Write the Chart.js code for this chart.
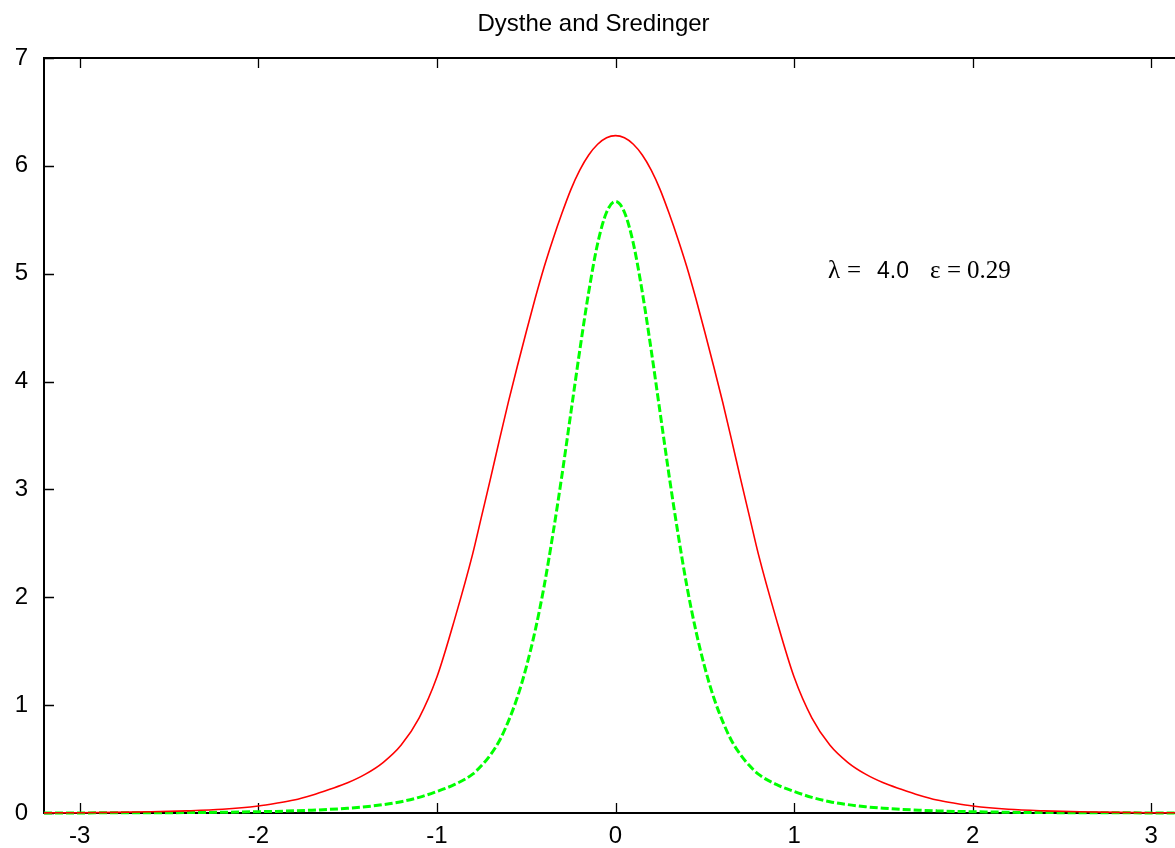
<!DOCTYPE html>
<html>
<head>
<meta charset="utf-8">
<script src="https://cdn.jsdelivr.net/npm/chart.js@4.4.0/dist/chart.umd.min.js"></script>
<style>
  body { margin: 0; overflow: hidden; background: #fff; }
  #wrap { width: 1190px; height: 848px; }
</style>
</head>
<body>
<div id="wrap"><canvas id="chart" width="1190" height="848"></canvas></div>
<script>
// x positions of the sampled points
const xs = [
  -3.2, -3.0, -2.8, -2.6, -2.4, -2.2, -2.0, -1.9, -1.8, -1.7, -1.6, -1.5, -1.4, -1.3, -1.2, -1.1, -1.0,
  -0.9, -0.8, -0.75, -0.7, -0.65, -0.6, -0.55, -0.5, -0.45, -0.4, -0.35, -0.3, -0.25, -0.2, -0.15, -0.1, -0.05,
  0,
  0.05, 0.1, 0.15, 0.2, 0.25, 0.3, 0.35, 0.4, 0.45, 0.5, 0.55, 0.6, 0.65, 0.7, 0.75, 0.8, 0.9,
  1.0, 1.1, 1.2, 1.3, 1.4, 1.5, 1.6, 1.7, 1.8, 1.9, 2.0, 2.2, 2.4, 2.6, 2.8, 3.0, 3.2
];

// Dysthe (red, solid)
const dystheVals = [
  0.0015, 0.003, 0.006, 0.011, 0.02, 0.035, 0.065, 0.09, 0.12, 0.165, 0.22, 0.28, 0.36, 0.47, 0.63, 0.88, 1.26,
  1.80, 2.40, 2.75, 3.10, 3.46, 3.81, 4.14, 4.46, 4.77, 5.06, 5.32, 5.56, 5.78, 5.96, 6.10, 6.20, 6.26,
  6.28,
  6.26, 6.20, 6.10, 5.96, 5.78, 5.56, 5.32, 5.06, 4.77, 4.46, 4.14, 3.81, 3.46, 3.10, 2.75, 2.40, 1.80,
  1.26, 0.88, 0.63, 0.47, 0.36, 0.28, 0.22, 0.165, 0.12, 0.09, 0.065, 0.035, 0.02, 0.011, 0.006, 0.003, 0.0015
];

// Schrodinger (green, dashed)
const sredVals = [
  0.0006, 0.001, 0.0015, 0.0025, 0.004, 0.007, 0.012, 0.015, 0.02, 0.026, 0.034, 0.044, 0.058, 0.078, 0.105, 0.145, 0.20,
  0.265, 0.36, 0.44, 0.54, 0.67, 0.85, 1.07, 1.35, 1.69, 2.10, 2.59, 3.13, 3.71, 4.29, 4.83, 5.28, 5.57,
  5.67,
  5.57, 5.28, 4.83, 4.29, 3.71, 3.13, 2.59, 2.10, 1.69, 1.35, 1.07, 0.85, 0.67, 0.54, 0.44, 0.36, 0.265,
  0.20, 0.145, 0.105, 0.078, 0.058, 0.044, 0.034, 0.026, 0.02, 0.015, 0.012, 0.007, 0.004, 0.0025, 0.0015, 0.001, 0.0006
];

const xTicks = [-3, -2, -1, 0, 1, 2, 3];
const yTicks = [0, 1, 2, 3, 4, 5, 6, 7];

const toPoints = vals => vals.map((v, i) => ({ x: xs[i], y: v }));

// gnuplot style frame with inward ticks, plus the label text
const gnuFrame = {
  id: 'gnuFrame',
  beforeDatasetsDraw(chart) {
    const { ctx, chartArea: a, scales } = chart;
    ctx.save();
    ctx.strokeStyle = '#000';
    ctx.lineWidth = 1.3;
    xTicks.forEach(t => {
      const px = Math.round(scales.x.getPixelForValue(t)) + 0.5;
      ctx.beginPath();
      ctx.moveTo(px, a.bottom); ctx.lineTo(px, a.bottom - 10);
      ctx.moveTo(px, a.top); ctx.lineTo(px, a.top + 10);
      ctx.stroke();
    });
    yTicks.forEach(t => {
      const py = Math.round(scales.y.getPixelForValue(t)) + 0.5;
      ctx.beginPath();
      ctx.moveTo(a.left, py); ctx.lineTo(a.left + 10, py);
      ctx.moveTo(a.right, py); ctx.lineTo(a.right - 10, py);
      ctx.stroke();
    });
    ctx.lineWidth = 2;
    ctx.strokeRect(a.left, a.top, a.right - a.left, a.bottom - a.top);
    ctx.restore();
  },
  afterDraw(chart) {
    const { ctx, scales } = chart;
    const x0 = scales.x.getPixelForValue(1.19);
    const py = scales.y.getPixelForValue(5.02);
    const serif = '25px "Liberation Serif", "Times New Roman", serif';
    const sans = '23px "Liberation Sans", Arial, sans-serif';
    const parts = [
      ['λ', serif, 0],
      ['=', serif, 19],
      ['4.0', sans, 49],
      ['ε', serif, 102],
      ['=', serif, 119],
      ['0.29', serif, 139]
    ];
    ctx.save();
    ctx.fillStyle = '#000';
    ctx.textBaseline = 'middle';
    parts.forEach(([txt, font, dx]) => {
      ctx.font = font;
      ctx.fillText(txt, x0 + dx, py);
    });
    ctx.restore();
  }
};

new Chart(document.getElementById('chart'), {
  type: 'line',
  data: {
    datasets: [
      {
        label: 'Dysthe',
        data: toPoints(dystheVals),
        borderColor: '#ff0000',
        borderWidth: 1.6,
        pointRadius: 0,
        fill: false,
        cubicInterpolationMode: 'monotone',
        clip: 4
      },
      {
        label: 'Sredinger',
        data: toPoints(sredVals),
        borderColor: '#00ff00',
        borderWidth: 3,
        borderDash: [8, 3],
        pointRadius: 0,
        fill: false,
        cubicInterpolationMode: 'monotone',
        clip: 4
      }
    ]
  },
  options: {
    responsive: false,
    animation: false,
    layout: { padding: { left: 0, right: 3, top: 0, bottom: 0 } },
    plugins: {
      legend: { display: false },
      tooltip: { enabled: false },
      title: {
        display: true,
        text: 'Dysthe and Sredinger',
        color: '#000',
        font: { family: '"Liberation Sans"', size: 24, weight: 'normal', lineHeight: 1.2 },
        padding: { top: 9.6, bottom: 19.6 }
      }
    },
    scales: {
      x: {
        type: 'linear',
        min: -3.2,
        max: 3.2,
        grid: { display: false, drawTicks: false },
        border: { display: false },
        ticks: {
          stepSize: 1,
          includeBounds: false,
          color: '#000',
          padding: 9,
          maxRotation: 0,
          font: { family: '"Liberation Sans"', size: 24 }
        },
        afterFit: s => { s.height = 35; }
      },
      y: {
        min: 0,
        max: 7,
        grid: { display: false, drawTicks: false },
        border: { display: false },
        ticks: {
          stepSize: 1,
          color: '#000',
          padding: 16,
          font: { family: '"Liberation Sans"', size: 24 }
        },
        afterFit: s => { s.width = 44; }
      }
    }
  },
  plugins: [gnuFrame]
});
</script>
</body>
</html>
